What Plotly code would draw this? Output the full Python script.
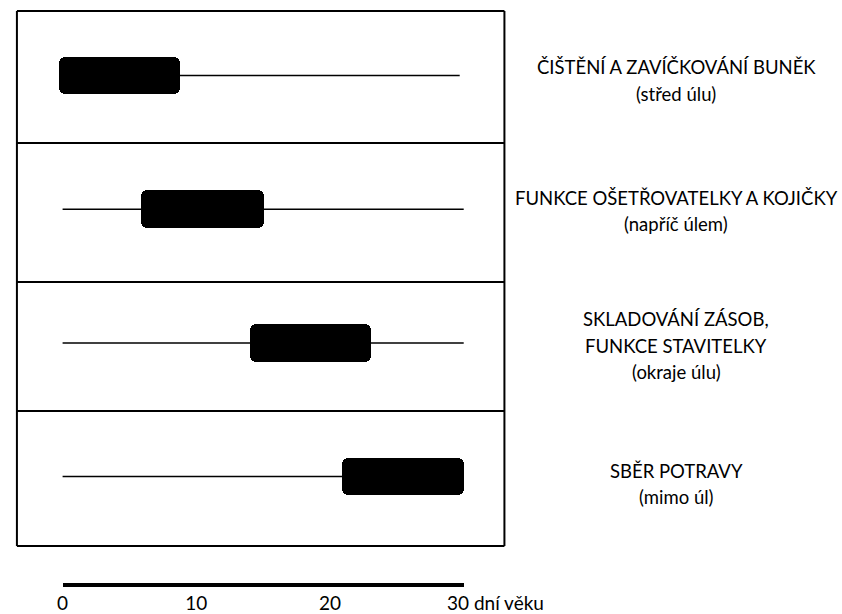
import plotly.graph_objects as go

# ---- data ----
rows = [0, 1, 2, 3]
labels = [
    ["ČIŠTĚNÍ A ZAVÍČKOVÁNÍ BUNĚK", "(střed úlu)"],
    ["FUNKCE OŠETŘOVATELKY A KOJIČKY", "(napříč úlem)"],
    ["SKLADOVÁNÍ ZÁSOB,", "FUNKCE STAVITELKY", "(okraje úlu)"],
    ["SBĚR POTRAVY", "(mimo úl)"],
]
box_start = [-0.3, 5.9, 14.0, 20.9]
box_end = [8.8, 15.1, 23.1, 30.0]
line_start = [0, 0, 0, 0]
line_end = [29.7, 30, 30, 29.9]
tick_vals = [0, 10, 20]
tick_text = ["0", "10", "20"]
last_tick = 30
last_tick_text = "30 dní věku"

W, H = 842, 614
FONT = "Lato"

fig = go.Figure()

# thin lifespan lines
for r, s, e in zip(rows, line_start, line_end):
    fig.add_trace(go.Scatter(x=[s, e], y=[r, r], mode="lines",
                             line=dict(color="black", width=1.5),
                             showlegend=False, hoverinfo="skip"))

# black rounded boxes
fig.add_trace(go.Bar(
    y=rows, x=[e - s for s, e in zip(box_start, box_end)], base=box_start,
    orientation="h", width=0.28,
    marker=dict(color="black", cornerradius=6, line=dict(width=0)),
    showlegend=False, hoverinfo="skip"))

# dummy trace for the scale axis
fig.add_trace(go.Scatter(x=[0, 30], y=[None, None], xaxis="x2", yaxis="y",
                         mode="lines", showlegend=False, hoverinfo="skip"))

# panel borders (paper coords)
x0p, x1p = 11 / W, 502 / W
borders_px = [11, 143, 282, 411, 546]
for i, py in enumerate(borders_px):
    yp = 1 - py / H
    fig.add_shape(type="line", xref="paper", yref="paper",
                  x0=x0p, x1=x1p, y0=yp, y1=yp,
                  line=dict(color="black", width=2))
for xp in (x0p, x1p):
    fig.add_shape(type="line", xref="paper", yref="paper",
                  x0=xp, x1=xp, y0=1 - 11 / H, y1=1 - 546 / H,
                  line=dict(color="black", width=2))

# right-side labels, one annotation per text line
row_shift = [-5, -2, -3, -7.5]
for r, lines, sh in zip(rows, labels, row_shift):
    n = len(lines)
    for i, t in enumerate(lines):
        fig.add_annotation(x=675 / W, xref="paper", y=r, yref="y",
                           text=t, showarrow=False, xanchor="center",
                           yanchor="middle",
                           yshift=-((i - (n - 1) / 2) * 26.5) + sh,
                           font=dict(family=FONT, size=18.5, color="black"))

# last tick label with unit
fig.add_annotation(x=last_tick, xref="x2", y=1 - 602 / H, yref="paper",
                   text=last_tick_text, showarrow=False, xanchor="left",
                   yanchor="middle", xshift=-19,
                   font=dict(family=FONT, size=19, color="black"))

px_per_unit = 133.7
row0_px = 75.5
xpx_per_day = (461 - 57) / 30.0

fig.update_layout(
    width=W, height=H,
    margin=dict(l=0, r=0, t=0, b=0),
    paper_bgcolor="white", plot_bgcolor="rgba(0,0,0,0)",
    xaxis=dict(range=[-57 / xpx_per_day, (W - 57) / xpx_per_day],
               visible=False, fixedrange=True),
    yaxis=dict(range=[(H - row0_px) / px_per_unit, -row0_px / px_per_unit],
               visible=False, fixedrange=True),
    xaxis2=dict(domain=[57 / W, 461 / W], range=[0, 30], anchor="free",
                position=1 - 585 / H, showline=True, linecolor="black",
                linewidth=3.5, showgrid=False, zeroline=False,
                tickvals=tick_vals, ticktext=tick_text, ticks="",
                tickfont=dict(family=FONT, size=19, color="black"),
                fixedrange=True),
    bargap=0,
)

fig.write_html("out.html", config={"displayModeBar": False},
               post_script="document.body.style.margin='0';document.body.style.overflow='hidden';")
